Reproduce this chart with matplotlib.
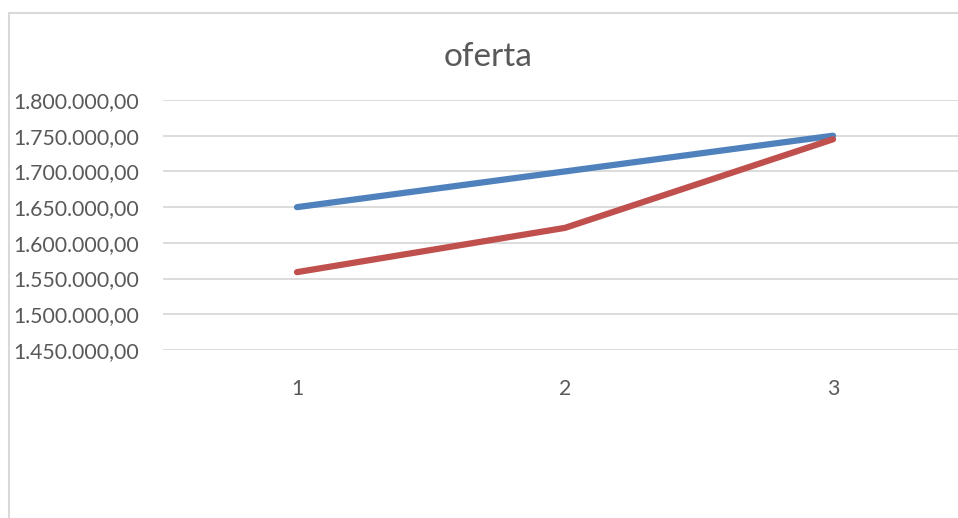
import matplotlib
matplotlib.use("Agg")
import matplotlib.pyplot as plt
from matplotlib.lines import Line2D
from matplotlib.ticker import FuncFormatter

# data
categories = [1, 2, 3]
serie_azul = [1650000, 1700000, 1750000]
serie_roja = [1559000, 1621000, 1745000]
y_ticks = [1450000, 1500000, 1550000, 1600000, 1650000, 1700000, 1750000, 1800000]

plt.rcParams['font.family'] = ['Lato', 'DejaVu Sans']
gris = '#595959'

W, H = 958, 518
fig = plt.figure(figsize=(W / 100, H / 100), dpi=100)
ax = fig.add_axes([163 / W, 1 - 350 / H, (967 - 163) / W, 250 / H])

ax.plot(categories, serie_azul, color='#4f81bd', lw=4.5, solid_capstyle='round', zorder=3)
ax.plot(categories, serie_roja, color='#c0504d', lw=4.5, solid_capstyle='round', zorder=3)

ax.set_xlim(0.5, 3.5)
ax.set_ylim(y_ticks[0], y_ticks[-1])
ax.set_yticks(y_ticks)
ax.set_xticks(categories)
ax.set_xticklabels([str(c) for c in categories])


def fmt(v, pos):
    s = f"{v:,.2f}"
    return s.replace(',', 'X').replace('.', ',').replace('X', '.')


ax.yaxis.set_major_formatter(FuncFormatter(fmt))
ax.grid(axis='y', color='#d9d9d9', lw=1.3)
ax.set_axisbelow(True)
for s in ax.spines.values():
    s.set_visible(False)
ax.tick_params(axis='both', length=0, labelsize=15.3, colors=gris)
ax.tick_params(axis='x', pad=21)
ax.yaxis.set_tick_params(pad=0)
for lab in ax.get_yticklabels():
    lab.set_horizontalalignment('left')
    lab.set_transform(ax.get_yaxis_transform())
    lab.set_x(-(163 - 13) / (967 - 163))

fig.text(488 / W, 1 - 57 / H, 'oferta', ha='center', va='center', fontsize=24, color=gris)

# chart border (cropped)
fig.add_artist(Line2D([9 / W, 9 / W], [0, 1 - 13 / H], color='#d9d9d9', lw=1.5))
fig.add_artist(Line2D([9 / W, 1], [1 - 13 / H, 1 - 13 / H], color='#d9d9d9', lw=1.5))

fig.savefig('out.png', dpi=100)
